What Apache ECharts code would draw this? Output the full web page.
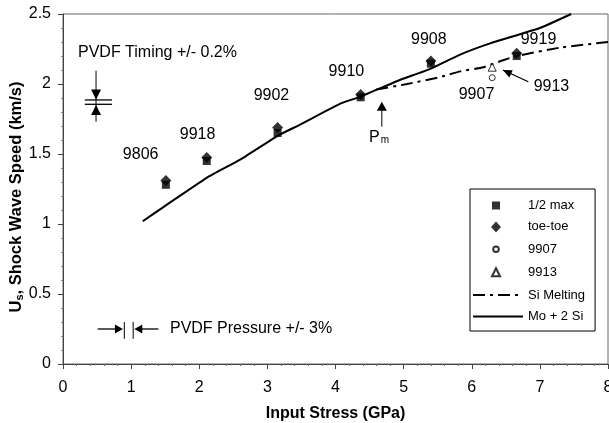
<!DOCTYPE html>
<html><head><meta charset="utf-8">
<script src="https://cdn.jsdelivr.net/npm/echarts@6/dist/echarts.min.js"></script>
<style>html,body{margin:0;padding:0;background:#fff}#c{width:609px;height:423px}</style>
</head><body><div id="c"></div>
<script>
// ---- data ----
const xTicks = [0,1,2,3,4,5,6,7,8];
const yTicks = [0,0.5,1,1.5,2,2.5];
const halfMaxX = [1.51, 2.11, 3.15, 4.37, 5.40, 6.66];
const halfMaxY = [1.28, 1.45, 1.65, 1.905, 2.145, 2.2];
const toeX = [1.51, 2.11, 3.15, 4.37, 5.40, 6.66];
const toeY = [1.31, 1.475, 1.69, 1.925, 2.165, 2.22];
const s9907 = [[6.30, 2.045]];
const s9913 = [[6.30, 2.12]];
const moX = [1.17, 1.5, 2.11, 2.6, 3.15, 3.48, 4.07, 4.37, 4.9, 5.4, 5.83, 6.27, 7.0, 7.46];
const moY = [1.02, 1.13, 1.33, 1.46, 1.63, 1.71, 1.86, 1.91, 2.02, 2.11, 2.21, 2.29, 2.40, 2.50];
const siX = [4.6, 5.05, 5.54, 5.83, 6.17, 6.46, 6.66, 7.3, 8.0];
const siY = [1.96, 2.0, 2.05, 2.09, 2.12, 2.17, 2.2, 2.26, 2.3];
const legendNames = ['1/2 max','toe-toe','9907','9913','Si Melting','Mo + 2 Si'];
// annotation text (data coordinates)
const labelText = ['9806','9918','9902','9910','9908','9919','9907','9913','PVDF Timing +/- 0.2%','PVDF Pressure +/- 3%'];
const labelX = [1.14, 1.975, 3.06, 4.16, 5.37, 6.98, 6.07, 7.17, 0.22, 1.57];
const labelY = [1.493, 1.636, 1.914, 2.086, 2.314, 2.314, 1.921, 1.979, 2.221, 0.25];
const labelAlign = ['center','center','center','center','center','center','center','center','left','left'];
// annotation glyphs (data coordinates)
const timingX = 0.485, timingLineY = [1.731, 2.095], timingBarsY = [1.855, 1.886], timingBarsX = [0.32, 0.72];
const timingDownApexY = 1.89, timingUpApexY = 1.85;
const pressY = 0.25, pressLinesX = [0.90, 1.03], pressLinesY = [0.18, 0.30];
const pressShaftL = [0.51, 0.88], pressShaftR = [1.047, 1.40];
const pmX = 4.68, pmY = [1.874, 1.695], pmLabel = [4.64, 1.62];
const arrow9913 = [[6.83, 2.016], [6.457, 2.10]];

const FONT = 'Arial, "Liberation Sans", sans-serif';
const chart = echarts.init(document.getElementById('c'), null, {renderer:'canvas'});

function head(apex, from, len, hw) {
  const dx = apex[0]-from[0], dy = apex[1]-from[1];
  const d = Math.sqrt(dx*dx+dy*dy); const ux = dx/d, uy = dy/d;
  const bx = apex[0]-ux*len, by = apex[1]-uy*len;
  return {type:'polygon', shape:{points:[apex,[bx-uy*hw, by+ux*hw],[bx+uy*hw, by-ux*hw]]}, style:{fill:'#000'}};
}
function seg(a,b,w){return {type:'line', shape:{x1:a[0],y1:a[1],x2:b[0],y2:b[1]}, style:{stroke:'#000', lineWidth:w||1}};}
// legend icon paths framed to the full 50x13 icon box so symbols keep their size
const FRAME = 'M0,0L0,0M50,13L50,13';
const iconSquare = 'path://' + FRAME + 'M19,2.5L27,2.5L27,10.5L19,10.5Z';
const iconDiamond = 'path://' + FRAME + 'M23,1L28,6.5L23,12L18,6.5Z';
const iconCircle = 'path://' + FRAME + 'M25.8,6.5A2.8,2.8 0 1 1 20.2,6.5A2.8,2.8 0 1 1 25.8,6.5Z';
const iconTriangle = 'path://' + FRAME + 'M23,2L27,10L19,10Z';

const option = {
  animation:false,
  backgroundColor:'#fff',
  textStyle:{fontFamily:FONT},
  grid:{left:63, right:1, top:14, bottom:59, outerBoundsMode:'none', containLabel:false,
    show:true, borderColor:'#666', borderWidth:1},
  xAxis:{type:'value', min:0, max:8, interval:1,
    name:'Input Stress (GPa)', nameLocation:'middle', nameGap:42, nameMoveOverlap:false,
    nameTextStyle:{fontSize:16, fontWeight:'bold', color:'#000', fontFamily:FONT},
    axisLine:{lineStyle:{color:'#444'}},
    axisTick:{show:true, length:5, lineStyle:{color:'#444'}},
    minorTick:{show:true, splitNumber:5, length:2, lineStyle:{color:'#666'}},
    splitLine:{show:false},
    axisLabel:{fontSize:16, color:'#000', margin:16, fontFamily:FONT, formatter:v=>String(v)}},
  yAxis:{type:'value', min:0, max:2.5, interval:0.5,
    name:'{a|U}{s|s}{e|, Shock Wave Speed (km/s)}', nameLocation:'middle', nameGap:38, nameMoveOverlap:false,
    nameTextStyle:{fontFamily:FONT, rich:{a:{fontSize:16.5, fontWeight:'bold', color:'#000', fontFamily:FONT},
      e:{fontSize:16.5, fontWeight:'bold', color:'#000', fontFamily:FONT, padding:[0,16,0,0]},
      s:{fontSize:11, fontWeight:'bold', color:'#000', fontFamily:FONT, verticalAlign:'bottom', padding:[6,0,0,0]}}},
    axisLine:{show:true, lineStyle:{color:'#444'}},
    axisTick:{show:true, length:5, lineStyle:{color:'#444'}},
    minorTick:{show:true, splitNumber:5, length:2, lineStyle:{color:'#888'}},
    splitLine:{show:false},
    axisLabel:{fontSize:16, color:'#000', margin:12, fontFamily:FONT, formatter:v=>String(v)}},
  legend:{orient:'vertical', left:470, top:189, padding:[10,10,8,2], itemGap:8.4, itemWidth:50, itemHeight:13,
    backgroundColor:'#fff', borderColor:'#000', borderWidth:1, borderRadius:0,
    textStyle:{fontSize:13, color:'#000', fontFamily:FONT},
    data:[
      {name:legendNames[0], icon:iconSquare},
      {name:legendNames[1], icon:iconDiamond},
      {name:legendNames[2], icon:iconCircle},
      {name:legendNames[3], icon:iconTriangle},
      {name:legendNames[4], itemStyle:{opacity:0}},
      {name:legendNames[5], itemStyle:{opacity:0}}]},
  series:[
    {name:legendNames[4], type:'line', smooth:0.15, symbol:'none', showSymbol:false,
      lineStyle:{color:'#000', width:2, type:[12,5,3,5]}, itemStyle:{color:'#000'},
      data:siX.map((x,i)=>[x, siY[i]]), z:2},
    {name:legendNames[5], type:'line', smooth:0.15, symbol:'none', showSymbol:false,
      lineStyle:{color:'#000', width:2}, itemStyle:{color:'#000'},
      data:moX.map((x,i)=>[x, moY[i]]), z:2},
    {name:legendNames[0], type:'scatter', symbol:'rect', symbolSize:8, itemStyle:{color:'#000'},
      data:halfMaxX.map((x,i)=>[x, halfMaxY[i]]), z:3},
    {name:legendNames[1], type:'scatter', symbol:'diamond', symbolSize:11, itemStyle:{color:'#000'},
      data:toeX.map((x,i)=>[x, toeY[i]]), z:3},
    {name:legendNames[2], type:'scatter', symbol:'circle', symbolSize:6,
      itemStyle:{color:'#fff', borderColor:'#000', borderWidth:1}, data:s9907, z:3},
    {name:legendNames[3], type:'scatter', symbol:'triangle', symbolSize:8,
      itemStyle:{color:'#fff', borderColor:'#000', borderWidth:1}, data:s9913, z:3},
    {name:'labels', type:'custom', z:4, silent:true,
      data:labelX.map((x,i)=>[x, labelY[i]]),
      renderItem:(params, api)=>{
        const i = params.dataIndex;
        const p = api.coord([labelX[i], labelY[i]]);
        return {type:'text', x:p[0], y:p[1], style:{text:labelText[i], fill:'#000', font:'16px '+FONT, align:labelAlign[i], verticalAlign:'middle'}};
      }},
    {name:'glyphs', type:'custom', z:4, silent:true, data:[[0,0]],
      renderItem:(params, api)=>{
        const c = v=>api.coord(v);
        const ch = [];
        const tTop = c([timingX, timingLineY[1]]), tBot = c([timingX, timingLineY[0]]);
        ch.push(seg(tTop, tBot, 1));
        timingBarsY.forEach(y=>ch.push(seg(c([timingBarsX[0], y]), c([timingBarsX[1], y]), 1.3)));
        const dA = c([timingX, timingDownApexY]); ch.push(head(dA, [dA[0], dA[1]-10], 10, 5));
        const uA = c([timingX, timingUpApexY]); ch.push(head(uA, [uA[0], uA[1]+10], 10, 5));
        const pl0 = c([pressShaftL[0], pressY]), pl1 = c([pressShaftL[1], pressY]);
        ch.push(seg(pl0, [pl1[0]-6, pl1[1]], 1.3)); ch.push(head(pl1, pl0, 8, 4.5));
        const pr0 = c([pressShaftR[0], pressY]), pr1 = c([pressShaftR[1], pressY]);
        ch.push(seg([pr0[0]+6, pr0[1]], pr1, 1.3)); ch.push(head(pr0, pr1, 8, 4.5));
        pressLinesX.forEach(x=>ch.push(seg(c([x, pressLinesY[0]]), c([x, pressLinesY[1]]), 1)));
        const pa = c([pmX, pmY[0]]), pb = c([pmX, pmY[1]]);
        ch.push(seg([pa[0], pa[1]+8], pb, 1)); ch.push(head(pa, pb, 9, 5));
        const pml = c(pmLabel);
        ch.push({type:'text', x:pml[0], y:pml[1], style:{text:'{a|P}{b|m}', fill:'#000', align:'center', verticalAlign:'middle',
          rich:{a:{font:'16px '+FONT, fill:'#000'}, b:{font:'10px '+FONT, fill:'#000', padding:[7,0,0,1]}}}});
        const aT = c(arrow9913[0]), aH = c(arrow9913[1]);
        ch.push(seg(aT, aH, 1.3)); ch.push(head(aH, aT, 9, 4));
        return {type:'group', children:ch};
      }}
  ]
};
chart.setOption(option);
</script></body></html>
